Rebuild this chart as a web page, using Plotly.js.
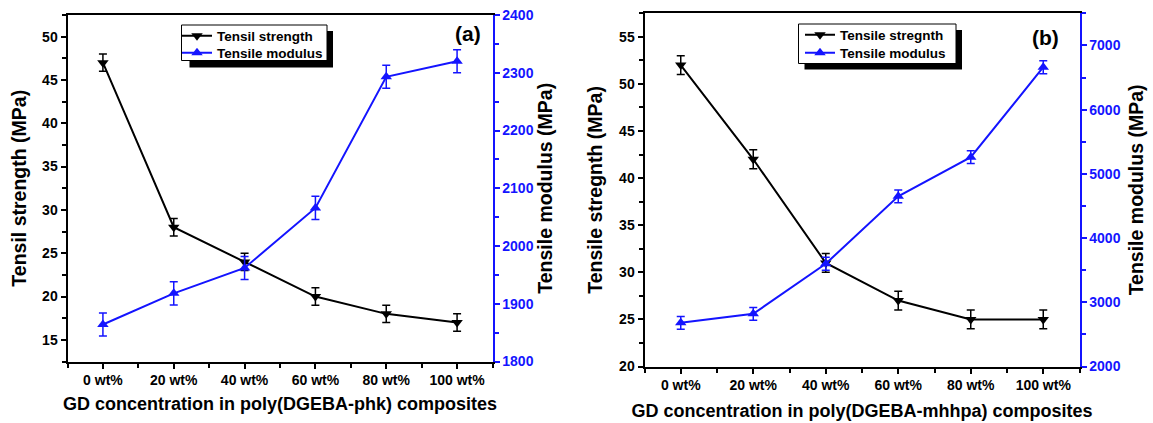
<!DOCTYPE html>
<html><head><meta charset="utf-8">
<script src="https://cdn.plot.ly/plotly-3.0.1.min.js"></script>
<style>html,body{margin:0;padding:0;background:#fff;}#chart{width:1153px;height:423px;}</style>
</head><body><div id="chart"></div>
<script>
const categories = ["0 wt%", "20 wt%", "40 wt%", "60 wt%", "80 wt%", "100 wt%"];
// Panel (a): poly(DGEBA-phk)
const strengthA = [47, 28, 24, 20, 18, 17];
const strengthAErr = [1, 1, 1, 1, 1, 1];
const modulusA = [1864, 1918, 1962, 2066, 2293, 2320];
const modulusAErr = [20, 20, 20, 20, 20, 20];
// Panel (b): poly(DGEBA-mhhpa)
const strengthB = [52, 42, 31, 27, 25, 25];
const strengthBErr = [1, 1, 1, 1, 1, 1];
const modulusB = [2680, 2820, 3600, 4650, 5260, 6660];
const modulusBErr = [100, 100, 100, 100, 100, 100];

const xIdx = categories.map((_, i) => i);
const FF = "Liberation Sans, Arial, sans-serif";
const BLUE = '#1414ff';
const W = 1153, H = 423;
const px = v => v / W, py = v => 1 - v / H;

function strengthTrace(y, err, xa, ya, name, legend) {
  return {x: xIdx, y: y, xaxis: xa, yaxis: ya, name: name, legend: legend,
    type: 'scatter', mode: 'lines+markers',
    line: {color: 'black', width: 2},
    marker: {symbol: 'triangle-down', size: 10, color: 'black'},
    error_y: {type: 'data', array: err, color: 'black', thickness: 1.5, width: 4}};
}
function modulusTrace(y, err, xa, ya, name, legend) {
  return {x: xIdx, y: y, xaxis: xa, yaxis: ya, name: name, legend: legend,
    type: 'scatter', mode: 'lines+markers',
    line: {color: BLUE, width: 2},
    marker: {symbol: 'triangle-up', size: 10, color: BLUE},
    error_y: {type: 'data', array: err, color: BLUE, thickness: 1.5, width: 4}};
}

const data = [
  strengthTrace(strengthA, strengthAErr, 'x', 'y', 'Tensil strength', 'legend'),
  modulusTrace(modulusA, modulusAErr, 'x', 'y2', 'Tensile modulus', 'legend2'),
  strengthTrace(strengthB, strengthBErr, 'x2', 'y3', 'Tensile stregnth', 'legend3'),
  modulusTrace(modulusB, modulusBErr, 'x2', 'y4', 'Tensile modulus', 'legend4')
];

const tickFont = {family: FF, size: 14, color: 'black', weight: 'bold'};
const blueTickFont = {family: FF, size: 14, color: BLUE, weight: 'bold'};
const titleFont = {family: FF, size: 19.5, color: 'black', weight: 'bold'};

function xAxis(domain, anchor, title, standoff) {
  return {domain: domain, anchor: anchor, range: [-0.5, 5.5], tickmode: 'array',
    tickvals: xIdx, ticktext: categories, showgrid: false, zeroline: false,
    showline: true, linecolor: 'black', linewidth: 2, mirror: true,
    ticks: 'outside', ticklen: 5, tickwidth: 2, tickcolor: 'black', tickfont: tickFont,
    minor: {tickmode: 'array', tickvals: [-0.5, 0.5, 1.5, 2.5, 3.5, 4.5, 5.5], ticks: 'outside', ticklen: 4, tickwidth: 2, tickcolor: 'black'},
    title: {text: title, font: {family: FF, size: 18, color: 'black', weight: 'bold'}, standoff: standoff}};
}
function yLeft(domain, anchor, range, dtick, title, standoff) {
  return {domain: domain, anchor: anchor, range: range, tick0: 0, dtick: dtick,
    showgrid: false, zeroline: false, showline: true, linecolor: 'black', linewidth: 2,
    ticks: 'outside', ticklen: 5, tickwidth: 2, tickcolor: 'black', tickfont: tickFont,
    minor: {dtick: dtick / 2, ticks: 'outside', ticklen: 4, tickwidth: 2, tickcolor: 'black'},
    title: {text: title, font: titleFont, standoff: standoff}};
}
function yRight(overlay, anchor, range, dtick, title, standoff) {
  return {overlaying: overlay, anchor: anchor, side: 'right', range: range, tick0: 0, dtick: dtick,
    showgrid: false, zeroline: false, showline: true, linecolor: BLUE, linewidth: 2,
    ticks: 'outside', ticklen: 5, tickwidth: 2, tickcolor: BLUE, tickfont: blueTickFont,
    minor: {dtick: dtick / 2, ticks: 'outside', ticklen: 4, tickwidth: 2, tickcolor: BLUE},
    title: {text: title, font: titleFont, standoff: standoff}};
}

const domA = [px(67.5), px(492.5)], domAy = [py(361.5), py(15)];
const domB = [px(644.5), px(1079.5)], domBy = [py(366.5), py(13.3)];

function legendAt(x, y) {
  return {x: px(x), y: py(y), xanchor: 'left', yanchor: 'middle',
    bgcolor: 'rgba(0,0,0,0)', borderwidth: 0,
    font: {family: FF, size: 13.5, color: 'black', weight: 'bold'}, itemwidth: 30};
}

const layout = {
  width: W, height: H, margin: {l: 0, r: 0, t: 0, b: 0},
  paper_bgcolor: 'white', plot_bgcolor: 'white', showlegend: true,
  xaxis: xAxis(domA, 'y', 'GD concentration in poly(DGEBA-phk) composites', 10),
  yaxis: yLeft(domAy, 'x', [12.5, 52.5], 5, 'Tensil strength (MPa)', 10),
  yaxis2: yRight('y', 'x', [1800, 2400], 100, 'Tensile modulus (MPa)', 6),
  xaxis2: xAxis(domB, 'y3', 'GD concentration in poly(DGEBA-mhhpa) composites', 12),
  yaxis3: yLeft(domBy, 'x2', [20, 57.5], 5, 'Tensile stregnth (MPa)', 11),
  yaxis4: yRight('y3', 'x2', [2000, 7500], 1000, 'Tensile modulus (MPa)', 10),
  legend: legendAt(177, 36),
  legend2: legendAt(177, 53),
  legend3: legendAt(800, 35),
  legend4: legendAt(800, 53),
  shapes: [
    {type: 'rect', xref: 'paper', yref: 'paper', x0: px(189.5), x1: px(333), y0: py(67.5), y1: py(31), fillcolor: 'black', line: {width: 0}, layer: 'above'},
    {type: 'rect', xref: 'paper', yref: 'paper', x0: px(181.5), x1: px(327), y0: py(60.5), y1: py(25), fillcolor: 'white', line: {width: 1, color: 'black'}, layer: 'above'},
    {type: 'rect', xref: 'paper', yref: 'paper', x0: px(804.5), x1: px(962), y0: py(69.5), y1: py(30), fillcolor: 'black', line: {width: 0}, layer: 'above'},
    {type: 'rect', xref: 'paper', yref: 'paper', x0: px(798.5), x1: px(956), y0: py(63.5), y1: py(24), fillcolor: 'white', line: {width: 1, color: 'black'}, layer: 'above'}
  ],
  annotations: [
    {text: '(a)', xref: 'paper', yref: 'paper', x: px(468), y: py(33), xanchor: 'center', yanchor: 'middle', showarrow: false, font: {family: FF, size: 21, color: 'black', weight: 'bold'}},
    {text: '(b)', xref: 'paper', yref: 'paper', x: px(1045), y: py(37), xanchor: 'center', yanchor: 'middle', showarrow: false, font: {family: FF, size: 21, color: 'black', weight: 'bold'}}
  ]
};

Plotly.newPlot('chart', data, layout, {displayModeBar: false, staticPlot: true});
</script>
</body></html>
